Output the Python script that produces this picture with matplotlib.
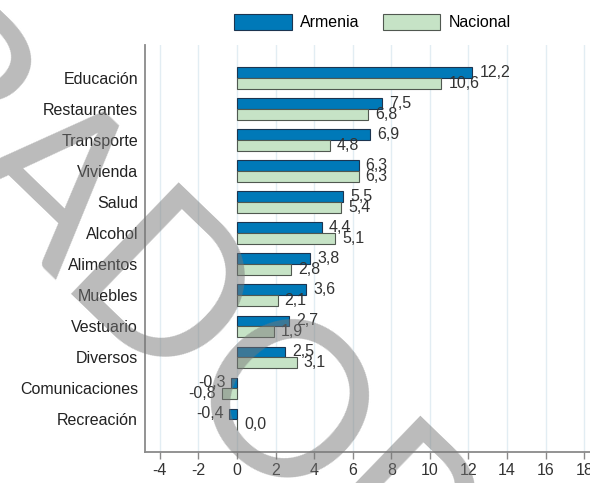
import matplotlib
matplotlib.use("Agg")
import matplotlib.pyplot as plt
from matplotlib.font_manager import FontProperties
from matplotlib.textpath import TextToPath
import numpy as np

# datos
categorias = ["Educación", "Restaurantes", "Transporte", "Vivienda", "Salud", "Alcohol",
              "Alimentos", "Muebles", "Vestuario", "Diversos", "Comunicaciones", "Recreación"]
armenia = [12.2, 7.5, 6.9, 6.3, 5.5, 4.4, 3.8, 3.6, 2.7, 2.5, -0.3, -0.4]
nacional = [10.6, 6.8, 4.8, 6.3, 5.4, 5.1, 2.8, 2.1, 1.9, 3.1, -0.8, 0.0]
xticks = [-4, -2, 0, 2, 4, 6, 8, 10, 12, 14, 16, 18]

plt.rcParams['font.family'] = ['Liberation Sans', 'DejaVu Sans']
plt.rcParams['font.size'] = 11.5

fig = plt.figure(figsize=(5.9, 4.83), dpi=100)
ax = fig.add_axes([0.2458, 0.0642, 0.7542, 0.8426])

y = np.arange(len(categorias))
h = 0.35
b1 = ax.barh(y - h / 2, armenia, height=h, color='#0079b8', edgecolor='#1c3550', linewidth=0.8,
             label='Armenia', zorder=3)
b2 = ax.barh(y + h / 2, nacional, height=h, color='#c6e3c6', edgecolor='#505850', linewidth=0.8,
             label='Nacional', zorder=3)

def etiquetas(barras, valores):
    for r, v in zip(barras, valores):
        yc = r.get_y() + r.get_height() / 2
        txt = ('%.1f' % v).replace('.', ',')
        if v < 0:
            ax.annotate(txt, (v, yc), xytext=(-4, 0), textcoords='offset points',
                        ha='right', va='center', color='#333333', zorder=4)
        else:
            ax.annotate(txt, (v, yc), xytext=(5, 0), textcoords='offset points',
                        ha='left', va='center', color='#333333', zorder=4)

etiquetas(b1, armenia)
etiquetas(b2, nacional)

ax.set_yticks(y)
ax.set_yticklabels(categorias, color='#222222')
ax.set_ylim(12.05, -1.07)
ax.set_xticks(xticks)
ax.set_xticklabels([str(t) for t in xticks], color='#333333')
ax.set_xlim(-4.77, 18.3)

ax.grid(axis='x', color='#e2edf3', linewidth=1, zorder=0)
ax.set_axisbelow(True)
for s in ['top', 'right']:
    ax.spines[s].set_visible(False)
for s in ['left', 'bottom']:
    ax.spines[s].set_color('#8a8a8a')
    ax.spines[s].set_linewidth(1.3)
ax.tick_params(axis='y', length=0, pad=5)
ax.tick_params(axis='x', length=5, color='#8a8a8a', width=1, pad=3)

fig.legend(loc='center', bbox_to_anchor=(0.631, 0.954), ncol=2, frameon=False,
           handlelength=3.6, handleheight=1.1, handletextpad=0.5, columnspacing=1.5)

# marca de agua "BORRADOR", colocada para que la "O" final quede en su sitio
prop = FontProperties(family=['Lato', 'Liberation Sans'], size=155)
palabra = "BORRADOR"
ttp = TextToPath()
w_antes = ttp.get_text_width_height_descent("BORRAD", prop, ismath=False)[0]
w_o = ttp.get_text_width_height_descent("O", prop, ismath=False)[0]
cap = ttp.get_text_width_height_descent("H", prop, ismath=False)[1]
px = 100 / 72.0
ang = np.radians(-44)
bx, by = np.cos(ang), np.sin(ang)
ux, uy = -np.sin(ang), np.cos(ang)
ox, oy = 284, 483 - 412   # centro de la "O" en pixeles
d = (w_antes + w_o / 2) * px
hh = cap / 2 * px
x0 = ox - d * bx - hh * ux
y0 = oy - d * by - hh * uy
fig.text(x0 / 590, y0 / 483, palabra, fontproperties=prop, rotation=-44, rotation_mode='anchor',
         ha='left', va='baseline', color='#777777', alpha=0.5)

fig.savefig('out.png', dpi=100)
